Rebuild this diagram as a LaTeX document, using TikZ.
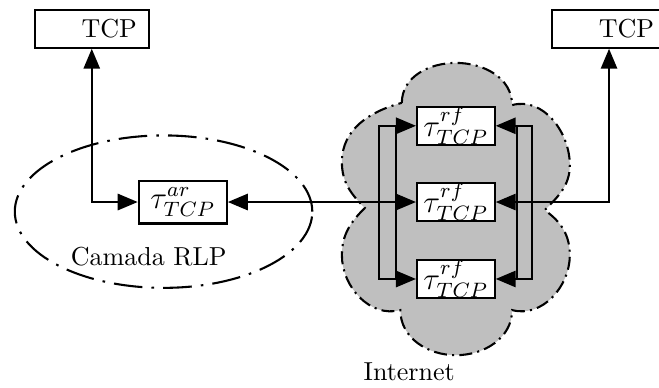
\documentclass[tikz,border=0pt]{standalone}
\usepackage{amsmath}
\usepackage{amssymb}
\usetikzlibrary{arrows.meta, positioning}

\begin{document}
\begin{tikzpicture}[
  >={Triangle[length=0.27cm, width=0.22cm]},
  tcpbox/.style={rectangle, draw, thick, fill=white, text width=1.22cm, align=right, inner xsep=0.16cm, inner ysep=0pt, minimum height=0.51cm},
  taubox/.style={rectangle, draw, thick, fill=white, inner sep=0pt, font=\large},
  arr/.style={<->, thick},
  layerline/.style={thick, dash pattern=on 11pt off 3.5pt on 1pt off 3.5pt},
  cloudline/.style={thick, fill=black!25, dash pattern=on 5pt off 2pt on 0.8pt off 2pt}]
\useasboundingbox (0, 0) rectangle (8.905, -5.23);
% RLP layer and the internet cloud
\draw[layerline] (2.21, -2.86) ellipse [x radius=2.01, y radius=1.03];
\draw[cloudline] (5.43, -1.39) to[out=90, in=180] (6.16, -0.85)
  to[out=0, in=90] (6.92, -1.42) to[out=15, in=90] (7.70, -2.23)
  to[out=-90, in=45] (7.36, -2.84) to[out=-35, in=90] (7.70, -3.45)
  to[out=-90, in=-15] (6.92, -4.19) to[out=-90, in=0] (6.16, -4.80)
  to[out=180, in=-90] (5.41, -4.19) to[out=195, in=-90] (4.62, -3.45)
  to[out=90, in=-135] (4.93, -2.81) to[out=135, in=-90] (4.62, -2.19)
  to[out=90, in=195] cycle;
\node (rlp) at (2.01, -3.47) {Camada RLP};
\node (inet) at (5.53, -5.03) {Internet};
% boxes
\node[tcpbox] (tcpL) at (1.24, -0.39) {TCP};
\node[tcpbox] (tcpR) at (8.23, -0.39) {TCP};
\node[taubox, minimum width=1.19cm, minimum height=0.58cm] (tauAR) at (2.47, -2.73) {$\tau^{ar}_{TCP}$};
\node[taubox, minimum width=1.05cm, minimum height=0.5cm] (rfA) at (6.16, -1.70) {$\tau^{rf}_{TCP}$};
\node[taubox, minimum width=1.05cm, minimum height=0.5cm] (rfB) at (6.16, -2.73) {$\tau^{rf}_{TCP}$};
\node[taubox, minimum width=1.05cm, minimum height=0.5cm] (rfC) at (6.16, -3.77) {$\tau^{rf}_{TCP}$};
\coordinate (fanLo) at (5.12, -2.73);
\coordinate (fanLi) at (5.35, -2.73);
\coordinate (fanRi) at (6.99, -2.73);
\coordinate (fanRo) at (7.19, -2.73);
% connections
\draw[arr] (tcpL.south) |- (tauAR.west);
\draw[arr] (tauAR.east) -- (rfB.west);
\draw[arr] (tcpR.south) |- (rfB.east);
\draw[arr] (rfA.west) -| (fanLo) |- (rfC.west);
\draw[thick] (rfA.west -| fanLi) -- (rfC.west -| fanLi);
\draw[arr] (rfA.east) -| (fanRo) |- (rfC.east);
\draw[thick] (rfA.east -| fanRi) -- (rfC.east -| fanRi);
\end{tikzpicture}
\end{document}
